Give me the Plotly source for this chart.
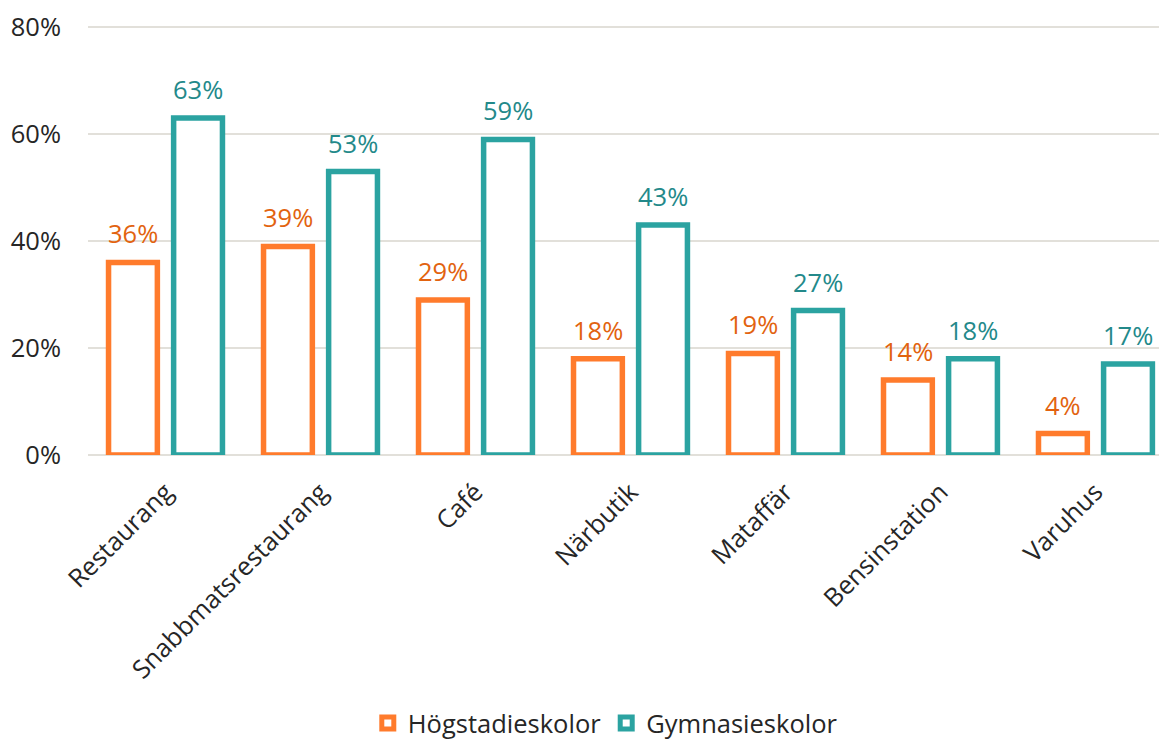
import plotly.graph_objects as go

categories = ["Restaurang", "Snabbmatsrestaurang", "Café", "Närbutik", "Mataffär", "Bensinstation", "Varuhus"]
hogstadie = [36, 39, 29, 18, 19, 14, 4]
gymnasie = [63, 53, 59, 43, 27, 18, 17]
series_names = ["Högstadieskolor", "Gymnasieskolor"]
y_ticks = [0, 20, 40, 60, 80]
y_tick_labels = ["0%", "20%", "40%", "60%", "80%"]

ORANGE = "#FF7B2C"
TEAL = "#2BA3A1"
ORANGE_TXT = "#E2630F"
TEAL_TXT = "#23898A"
FONT = "Open Sans"
FS = 25.5

fig = go.Figure()
series = [(series_names[0], hogstadie, ORANGE, ORANGE_TXT, -32.5),
          (series_names[1], gymnasie, TEAL, TEAL_TXT, 32.5)]
for name, vals, col, tcol, xs in series:
    fig.add_trace(go.Bar(
        x=categories, y=vals, name=name,
        marker=dict(color="white", line=dict(color=col, width=5.5)),
        cliponaxis=False,
    ))
    for c, v in zip(categories, vals):
        fig.add_annotation(x=c, y=v, xref="x", yref="y", text=f"{v}%", showarrow=False,
                           xshift=xs, yshift=10, yanchor="bottom",
                           font=dict(family=FONT, size=FS, color=tcol))

fig.update_layout(
    width=1159, height=742,
    paper_bgcolor="white", plot_bgcolor="white",
    barmode="group", bargap=0.16, bargroupgap=0.25,
    margin=dict(l=88, r=0, t=25, b=287, autoexpand=False),
    font=dict(family=FONT, size=FS, color="#262626"),
    showlegend=True,
    legend=dict(orientation="h", x=0.483, xanchor="center", y=-0.624, yanchor="middle",
                font=dict(family=FONT, size=FS, color="#262626"), itemwidth=30, traceorder="normal"),
)
fig.update_xaxes(range=[-0.5, 6.41], tickangle=-45, showgrid=False, showline=False, automargin=False,
                 ticks="", tickfont=dict(family=FONT, size=FS, color="#262626"), ticklabelstandoff=16)
fig.update_yaxes(range=[0, 80.4], tickvals=y_ticks, ticktext=y_tick_labels, showgrid=True,
                 gridcolor="#E2E0DA", automargin=False,
                 gridwidth=2, zeroline=True, zerolinecolor="#E2E0DA", zerolinewidth=2,
                 tickfont=dict(family=FONT, size=FS, color="#262626"), ticks="", ticklabelstandoff=26)

fig.write_html("out.html", config={"displayModeBar": False},
               post_script="document.body.style.margin='0';")
